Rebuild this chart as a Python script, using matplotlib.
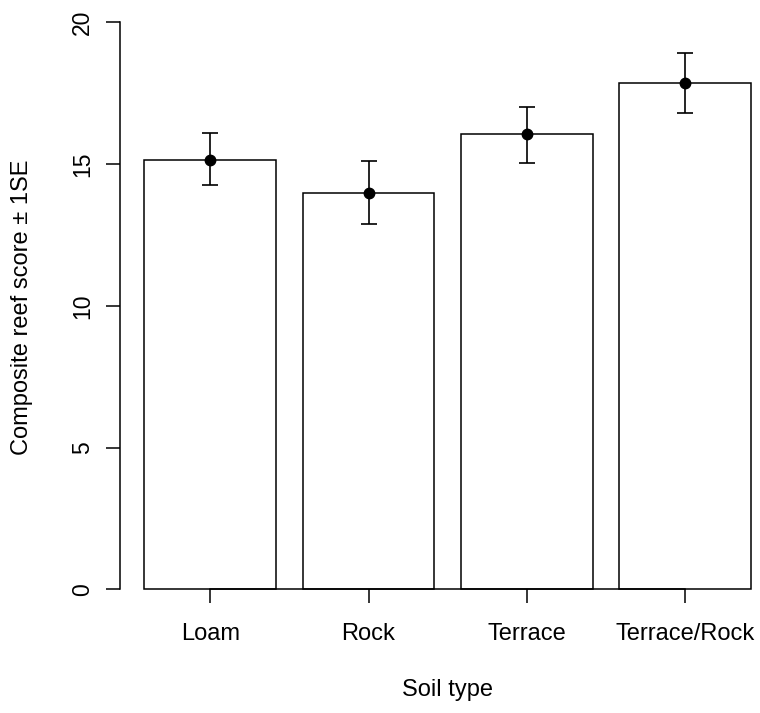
import numpy as np
import matplotlib
matplotlib.use("Agg")
import matplotlib.pyplot as plt

# soil types and composite reef score (mean +/- 1 SE)
soil = ["Loam", "Rock", "Terrace", "Terrace/Rock"]
mean = [15.15, 13.98, 16.06, 17.87]
se_hi = [16.11, 15.09, 17.02, 18.92]
se_lo = [14.26, 12.87, 15.04, 16.81]

plt.rcParams['font.family'] = ['Liberation Sans', 'DejaVu Sans']

W, H, DPI = 760, 713, 100
fig = plt.figure(figsize=(W / DPI, H / DPI), dpi=DPI)

# pixel geometry of the plot region
x_axis_px = 120.3
px_per_unit_x = 131.9
y0_px, y20_px = 589.3, 22.3
ppu_y = (y0_px - y20_px) / 20.0
bottom_px = 611.7

ax = fig.add_axes([x_axis_px / W, (H - bottom_px) / H, 1 - x_axis_px / W, bottom_px / H])
xmin = 0.2 - (144.3 - x_axis_px) / px_per_unit_x
ax.set_xlim(xmin, xmin + (W - x_axis_px) / px_per_unit_x)
ax.set_ylim(-(bottom_px - y0_px) / ppu_y, y0_px / ppu_y)

# R-style bar positions: width 1, space 0.2
mids = 0.7 + 1.2 * np.arange(len(soil))
ax.bar(mids, mean, width=1.0, color="white", edgecolor="black", linewidth=1.1, zorder=2)

yerr = np.array([np.array(mean) - np.array(se_lo), np.array(se_hi) - np.array(mean)])
ax.errorbar(mids, mean, yerr=yerr, fmt="o", color="black", ms=7.5, capsize=5.5,
            elinewidth=1.2, capthick=1.2, zorder=3)

for s in ["top", "right"]:
    ax.spines[s].set_visible(False)
ax.spines["left"].set_bounds(0, 20)
ax.spines["bottom"].set_position(("data", 0))
ax.spines["bottom"].set_bounds(mids[0], mids[-1])
for s in ["left", "bottom"]:
    ax.spines[s].set_linewidth(1.1)

ax.set_yticks([0, 5, 10, 15, 20])
ax.set_yticklabels(["0", "5", "10", "15", "20"], rotation=90, va="center", fontsize=16.5)
ax.set_xticks(mids)
ax.set_xticklabels(soil, fontsize=17)
ax.tick_params(axis="y", length=10, width=1.1, pad=9)
ax.tick_params(axis="x", length=10, width=1.1, pad=14)
ax.patch.set_visible(False)

fig.text(448 / W, 1 - 690 / H, "Soil type", ha="center", va="center", fontsize=17)
fig.text(22 / W, 1 - 307 / H, "Composite reef score \u00b1 1SE", ha="center", va="center",
         rotation=90, fontsize=17)

fig.savefig("out.png", dpi=DPI)
